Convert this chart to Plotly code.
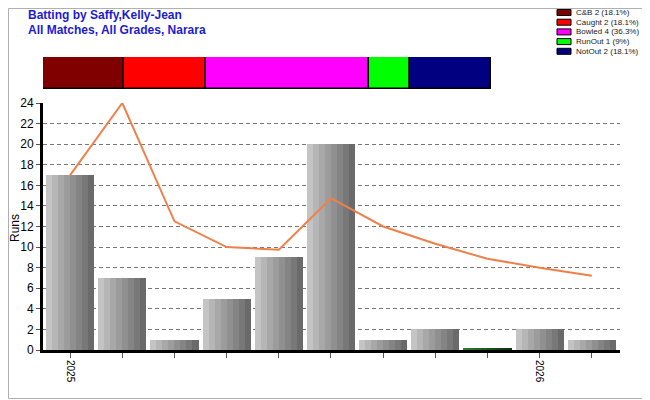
import plotly.graph_objects as go

innings = list(range(11))
runs = [17, 7, 1, 5, 9, 20, 1, 2, 0.2, 2, 1]
average = [17, 24, 12.5, 10, 9.75, 14.75, 12, 10.33, 8.86, 8, 7.22]
tick_text = ["2025", "", "", "", "", "", "", "", "", "2026", ""]

title_lines = ["Batting by Saffy,Kelly-Jean", "All Matches, All Grades, Narara"]

dismissals = ["C&B", "Caught", "Bowled", "RunOut", "NotOut"]
dismissal_counts = [2, 2, 4, 1, 2]
dismissal_pct = ["18.1%", "18.1%", "36.3%", "9%", "18.1%"]
dismissal_colors = ["#800000", "#ff0000", "#ff00ff", "#00ff00", "#000080"]

# vertical shading of each bar, light on the left to dark on the right
grey_stripes = ["#c4c4c4", "#b6b6b6", "#a8a8a8", "#9c9c9c", "#909090", "#848484", "#787878", "#6a6a6a"]
green_stripes = ["#2f7a2f", "#2a702a", "#256625", "#205c20", "#1b521b", "#174817", "#123e12", "#0e340e"]

# the page body adds an 8px margin, so the figure is drawn 8px in and 8px smaller
OFF = 8
W, H = 650 - OFF, 400 - OFF
L, R, T, B = 43 - OFF, 30, 57 - OFF, 50
PW, PH = W - L - R, H - T - B


def px_x(px):
    # screen pixel -> paper x
    return (px - OFF - L) / PW


def px_y(py):
    # screen pixel -> paper y
    return (400 - B - py) / PH


fig = go.Figure()

bar_w = 0.92
n = len(grey_stripes)
for k in range(n):
    colors = [green_stripes[k] if r < 0.5 else grey_stripes[k] for r in runs]
    fig.add_trace(
        go.Bar(
            x=innings,
            y=runs,
            width=bar_w / n + 0.002,
            offset=-bar_w / 2 + k * bar_w / n,
            marker=dict(color=colors, line=dict(width=0)),
            showlegend=False,
            hoverinfo="skip",
        )
    )

fig.add_trace(
    go.Scatter(
        x=innings,
        y=average,
        mode="lines",
        line=dict(color="#f0804a", width=2),
        showlegend=False,
    )
)

# dismissal summary strip
base = 0
for name, cnt, col in zip(dismissals, dismissal_counts, dismissal_colors):
    fig.add_trace(
        go.Bar(
            x=[cnt],
            y=[0],
            base=[base],
            orientation="h",
            name=name,
            marker=dict(color=col, line=dict(color="black", width=1.5)),
            width=1,
            xaxis="x2",
            yaxis="y2",
            showlegend=False,
        )
    )
    base += cnt

shapes = []
annotations = []
for i, line in enumerate(title_lines):
    annotations.append(
        dict(
            text=f"<b>{line}</b>",
            xref="paper",
            yref="paper",
            x=px_x(26),
            y=px_y(15 + i * 15),
            xanchor="left",
            yanchor="middle",
            showarrow=False,
            font=dict(size=12, color="#1c1cd0"),
        )
    )

# y axis title as an annotation (standoff is ignored without automargin)
annotations.append(
    dict(
        text="Runs",
        xref="paper",
        yref="paper",
        x=px_x(15),
        y=px_y(228),
        xanchor="center",
        yanchor="middle",
        textangle=-90,
        showarrow=False,
        font=dict(size=12, color="black"),
    )
)

# legend drawn by hand so the rows sit as tight as the original
for i, (name, cnt, pct, col) in enumerate(zip(dismissals, dismissal_counts, dismissal_pct, dismissal_colors)):
    cy = 12.5 + i * 9.7
    shapes.append(
        dict(
            type="rect",
            xref="paper",
            yref="paper",
            x0=px_x(557),
            x1=px_x(571),
            y0=px_y(cy + 3),
            y1=px_y(cy - 3),
            fillcolor=col,
            line=dict(color="black", width=1),
        )
    )
    annotations.append(
        dict(
            text=f"{name} {cnt} ({pct})",
            xref="paper",
            yref="paper",
            x=px_x(574),
            y=px_y(cy),
            xanchor="left",
            yanchor="middle",
            showarrow=False,
            font=dict(size=8, color="#222"),
        )
    )

shapes.append(
    dict(
        type="rect",
        xref="paper",
        yref="paper",
        x0=px_x(8.5),
        x1=px_x(648.5),
        y0=px_y(398.5),
        y1=px_y(8.5),
        line=dict(color="#b0b0b0", width=1),
    )
)

fig.update_layout(
    width=W,
    height=H,
    barmode="overlay",
    bargap=0,
    paper_bgcolor="white",
    plot_bgcolor="white",
    font=dict(family="Arial, Liberation Sans, sans-serif", color="black", size=12),
    margin=dict(l=L, r=R, t=T, b=B, autoexpand=False),
    xaxis=dict(
        domain=[0, 1],
        range=[-0.52, 10.54],
        tickmode="array",
        tickvals=innings,
        ticktext=tick_text,
        tickangle=90,
        ticks="outside",
        ticklen=5,
        tickcolor="#555",
        tickfont=dict(size=10),
        showgrid=False,
        showline=True,
        linecolor="black",
        linewidth=3,
        zeroline=False,
        automargin=False,
    ),
    yaxis=dict(
        domain=[0, px_y(103)],
        range=[0, 24],
        dtick=2,
        ticks="outside",
        ticklen=4,
        tickcolor="#555",
        showline=True,
        linecolor="black",
        linewidth=3,
        gridcolor="#777",
        griddash="4px,3px",
        gridwidth=1,
        zeroline=False,
        automargin=False,
    ),
    xaxis2=dict(
        domain=[0, px_x(491)],
        range=[0, sum(dismissal_counts)],
        anchor="y2",
        visible=False,
    ),
    yaxis2=dict(
        domain=[px_y(89), px_y(57)],
        range=[-0.5, 0.5],
        anchor="x2",
        visible=False,
    ),
    showlegend=False,
    shapes=shapes,
    annotations=annotations,
)

fig.write_html("out.html")
